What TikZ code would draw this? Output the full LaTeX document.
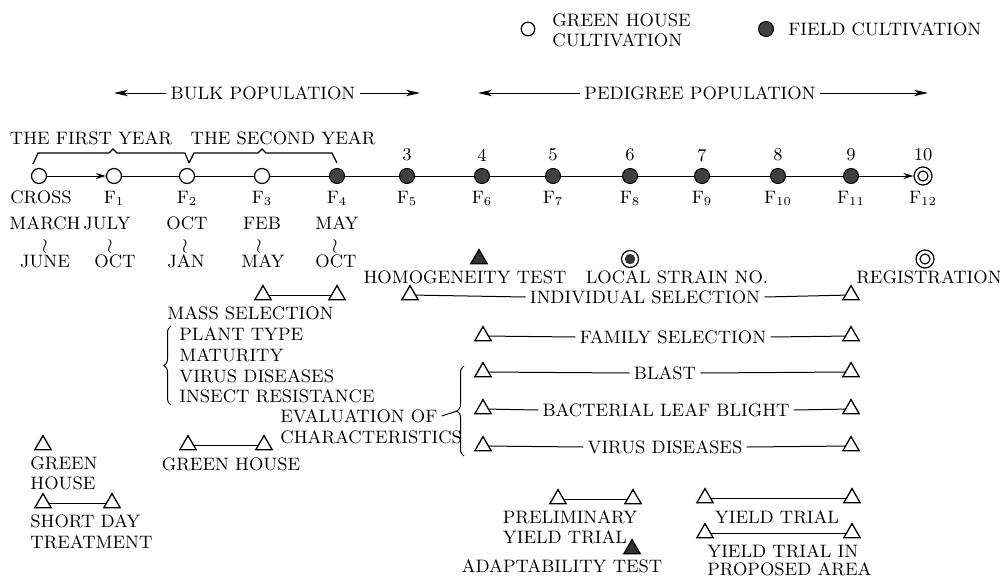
\documentclass[tikz,border=0pt]{standalone}
\usetikzlibrary{shapes.geometric,arrows.meta,decorations.pathreplacing}
\begin{document}
\begin{tikzpicture}[x=0.5pt,y=-0.5pt,
  every node/.style={font=\fontsize{9}{10}\selectfont, inner sep=0pt, text depth=0pt},
  gh/.style={circle,draw,line width=0.6pt,minimum size=7.5pt},
  fc/.style={circle,draw,fill=black!75,line width=0.5pt,minimum size=7.5pt},
  dbl/.style={circle,draw,line width=0.6pt,minimum size=9pt},
  tri/.style={regular polygon,regular polygon sides=3,draw,line width=0.65pt,minimum size=9.4pt},
  btri/.style={tri,fill=black!80},
  conn/.style={line width=0.5pt},
  arr/.style={conn,-{Stealth[length=5pt,width=3pt]}},
  parr/.style={conn,-{Stealth[length=7pt,width=3.2pt,inset=2pt]}},
  popl/.style={inner sep=2pt},
  lbl/.style={anchor=west},
  brc/.style={decorate,decoration={brace,amplitude=3.5pt},line width=0.5pt}
]
\useasboundingbox (0,0) rectangle (1000,578);

% legend
\node[gh,minimum size=6.8pt] (lg1) at (528,29) {};
\node[lbl,align=left] (lgt1) at (552,30) {GREEN HOUSE\\CULTIVATION};
\node[fc,minimum size=7.5pt] (lg2) at (766,29) {};
\node[lbl] (lgt2) at (788,29) {FIELD CULTIVATION};

% population arrows
\node[popl] (bulk) at (263,93) {BULK POPULATION};
\coordinate (bl) at (114,93);
\coordinate (br) at (420,93);
\draw[parr] (bulk.west) -- (bl);
\draw[parr] (bulk.east) -- (br);
\node[popl] (ped) at (700,93) {PEDIGREE POPULATION};
\coordinate (pl) at (478,93);
\coordinate (pr) at (928,93);
\draw[parr] (ped.west) -- (pl);
\draw[parr] (ped.east) -- (pr);

% years
\node (y1) at (91,138) {THE FIRST YEAR};
\node (y2) at (283,138) {THE SECOND YEAR};
\draw[conn,line width=0.6pt] (33,164) -- (38,153) -- (109,153) -- (113,149) -- (117,153) -- (185,153) -- (189,163);
\draw[conn,line width=0.6pt] (189,163) -- (194,153) -- (258,153) -- (262,149) -- (266,153) -- (332,153) -- (337,163);

% main row
\foreach \n/\x in {0/39,1/114,2/187,3/262} \node[gh] (c\n) at (\x,176) {};
\foreach \n/\x in {4/337,5/407,6/482,7/553,8/630,9/702,10/778,11/851} \node[fc] (c\n) at (\x,176) {};
\node[dbl] (c12) at (923,176) {};
\draw[line width=0.6pt] (c12.center) circle[radius=2.5pt];
\draw[arr] (c0) -- (c1);
\foreach \a/\b in {1/2,2/3,3/4,4/5,5/6,6/7,7/8,8/9,9/10,10/11} \draw[conn] (c\a) -- (c\b);
\draw[arr] (c11) -- (c12);

\node (lb0) at (41,197) {CROSS};
\foreach \n/\x in {1/114,2/187,3/262,4/337,5/407,6/482,7/553,8/630,9/702,10/778,11/851,12/923}
  \node (lb\n) at (\x,197) {F$_{\n}$};
\foreach \n/\x/\t in {5/407/3,6/482/4,7/553/5,8/630/6,9/702/7,10/778/8,11/851/9,12/923/10}
  \node (num\n) at (\x,155) {\t};

% months
\foreach \i/\x/\t in {1/45/MARCH,2/107/JULY,3/187/OCT,4/262/FEB,5/337/MAY}
  \node (mt\i) at (\x,223) {\t};
\foreach \i/\x in {1/45,2/110,3/185,4/259,5/335}
  \node[font=\fontsize{10}{10}\selectfont] (mw\i) at (\x,245) {$\wr$};
\foreach \i/\x/\t in {1/45/JUNE,2/115/OCT,3/186/JAN,4/263/MAY,5/336/OCT}
  \node (mb\i) at (\x,261) {\t};

% homogeneity, local strain, registration
\node[btri] (ht) at (479,259) {};
\node (htt) at (465,277) {HOMOGENEITY TEST};
\node[dbl,minimum size=8.5pt] (ls) at (630,259) {};
\fill[black!80] (ls.center) circle[radius=2.6pt];
\node (lst) at (677,277) {LOCAL STRAIN NO.};
\node[dbl] (rg) at (925,259) {};
\draw[line width=0.6pt] (rg.center) circle[radius=2.5pt];
\node (rgt) at (929,277) {REGISTRATION};

% mass selection
\node[tri] (m1) at (263,295) {};
\node[tri] (m2) at (337,295) {};
\draw[conn] (m1) -- (m2);
\node[lbl] (ms) at (167,313) {MASS SELECTION};
\node[lbl] (ms1) at (179,334) {PLANT TYPE};
\node[lbl] (ms2) at (179,355) {MATURITY};
\node[lbl] (ms3) at (179,376) {VIRUS DISEASES};
\node[lbl] (ms4) at (179,396) {INSECT RESISTANCE};
\draw[brc] (171,405) -- (171,326);

% selection rows
\node[tri] (i1) at (410,295) {};
\node[tri] (i2) at (851,295) {};
\node[popl] (it) at (645,297) {INDIVIDUAL SELECTION};
\draw[conn] (i1) -- (it.west);
\draw[conn] (it.east) -- (i2);

\foreach \r/\y/\cx/\t in {f/336/673/FAMILY SELECTION, b/372/665/BLAST, bb/409/666/BACTERIAL LEAF BLIGHT, v/446/665/VIRUS DISEASES}{
  \node[tri] (\r1) at (483,\y) {};
  \node[tri] (\r2) at (851,\y) {};
  \node[popl] (\r t) at (\cx,\y+1) {\t};
  \draw[conn] (\r1) -- (\r t.west);
  \draw[conn] (\r t.east) -- (\r2);
}

% evaluation
\node[lbl] (ev) at (280,416) {EVALUATION OF};
\node[lbl] (ch) at (280,437) {CHARACTERISTICS};
\draw[brc] (464,456) -- (464,366);
\coordinate (evtip) at (457,411);
\draw[conn] ([xshift=2pt]ev.east) -- (evtip);

% green house
\node[tri] (g1) at (188,445) {};
\node[tri] (g2) at (264,445) {};
\draw[conn] (g1) -- (g2);
\node (gt) at (231,464) {GREEN HOUSE};

\node[tri] (s0) at (43,445) {};
\node[lbl] (s0a) at (30,463) {GREEN};
\node[lbl] (s0b) at (30,483) {HOUSE};
\node[tri] (s1) at (43,503) {};
\node[tri] (s2) at (112,503) {};
\draw[conn] (s1) -- (s2);
\node[lbl] (s1a) at (30,521) {SHORT DAY};
\node[lbl] (s1b) at (30,542) {TREATMENT};

% preliminary yield trial
\node[tri] (p1) at (558,499) {};
\node[tri] (p2) at (633,499) {};
\draw[conn] (p1) -- (p2);
\node (pt1) at (570,517) {PRELIMINARY};
\node (pt2) at (565,537) {YIELD TRIAL};
\node[btri] (ad) at (632,549) {};
\node (adt) at (562,566) {ADAPTABILITY TEST};

% yield trials
\node[tri] (yt1) at (705,498) {};
\node[tri] (yt2) at (852,498) {};
\draw[conn] (yt1) -- (yt2);
\node (ytt) at (777,517) {YIELD TRIAL};
\node[tri] (yp1) at (705,533) {};
\node[tri] (yp2) at (852,533) {};
\draw[conn] (yp1) -- (yp2);
\node[lbl] (ypt1) at (707,551) {YIELD TRIAL IN};
\node[lbl] (ypt2) at (707,569) {PROPOSED AREA};
\end{tikzpicture}
\end{document}
